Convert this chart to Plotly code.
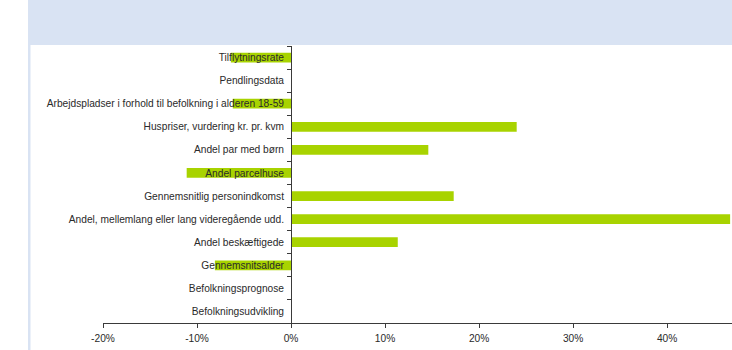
import plotly.graph_objects as go

categories = [
    "Tilflytningsrate",
    "Pendlingsdata",
    "Arbejdspladser i forhold til befolkning i alderen 18-59",
    "Huspriser, vurdering kr. pr. kvm",
    "Andel par med børn",
    "Andel parcelhuse",
    "Gennemsnitlig personindkomst",
    "Andel, mellemlang eller lang videregående udd.",
    "Andel beskæftigede",
    "Gennemsnitsalder",
    "Befolkningsprognose",
    "Befolkningsudvikling",
]
values = [-0.064, 0.0, -0.062, 0.240, 0.146, -0.111, 0.173, 0.467, 0.1135, -0.081, 0.0, 0.0]

x_tickvals = [-0.2, -0.1, 0.0, 0.1, 0.2, 0.3, 0.4]
x_ticktext = ["-20%", "-10%", "0%", "10%", "20%", "30%", "40%"]

x_range = [-0.2, 0.469]
W, H = 732, 350
ML, MR, MT, MB = 103, 0, 46, 27
pw = W - ML - MR
ph = H - MT - MB

bar_color = "#A8D300"
band_color = "#D9E3F3"
axis_color = "#3a3a3a"
font = dict(family="Liberation Sans, Arial, sans-serif", size=10.2, color="#2a2a2a")

fig = go.Figure(
    go.Bar(
        x=values,
        y=categories,
        orientation="h",
        marker=dict(color=bar_color, line=dict(width=0)),
        width=0.42,
        hoverinfo="x+y",
    )
)

zero_pos = (0 - x_range[0]) / (x_range[1] - x_range[0])

fig.update_layout(
    width=W,
    height=H,
    margin=dict(l=ML, r=MR, t=MT, b=MB, pad=0),
    paper_bgcolor="white",
    plot_bgcolor="white",
    showlegend=False,
    font=font,
    xaxis=dict(
        range=x_range,
        tickvals=x_tickvals,
        ticktext=x_ticktext,
        showgrid=False,
        zeroline=False,
        showline=True,
        linecolor=axis_color,
        linewidth=1,
        ticks="outside",
        ticklen=4,
        tickcolor=axis_color,
        tickfont=font,
        ticklabelstandoff=2,
        fixedrange=True,
    ),
    yaxis=dict(
        type="category",
        categoryorder="array",
        categoryarray=categories,
        autorange="reversed",
        anchor="free",
        position=zero_pos,
        showgrid=False,
        zeroline=False,
        showline=True,
        linecolor=axis_color,
        linewidth=1,
        ticks="outside",
        tickson="boundaries",
        ticklen=4,
        tickcolor=axis_color,
        tickfont=font,
        ticklabelstandoff=5,
        fixedrange=True,
    ),
    shapes=[
        dict(type="rect", xref="paper", yref="paper",
             x0=(28 - ML) / pw, x1=1.0 + 5 / pw, y0=1.0 + 1 / ph, y1=1.0 + MT / ph + 0.01,
             fillcolor=band_color, line=dict(width=0), layer="below"),
        dict(type="rect", xref="paper", yref="paper",
             x0=(28 - ML) / pw, x1=(30.5 - ML) / pw, y0=-MB / ph - 0.01, y1=1.0 + 1 / ph,
             fillcolor=band_color, line=dict(width=0), layer="below"),
    ],
)

fig.write_html(
    "out.html",
    config={"displayModeBar": False},
    post_script="document.body.style.margin='0';document.body.style.overflow='hidden';",
)
